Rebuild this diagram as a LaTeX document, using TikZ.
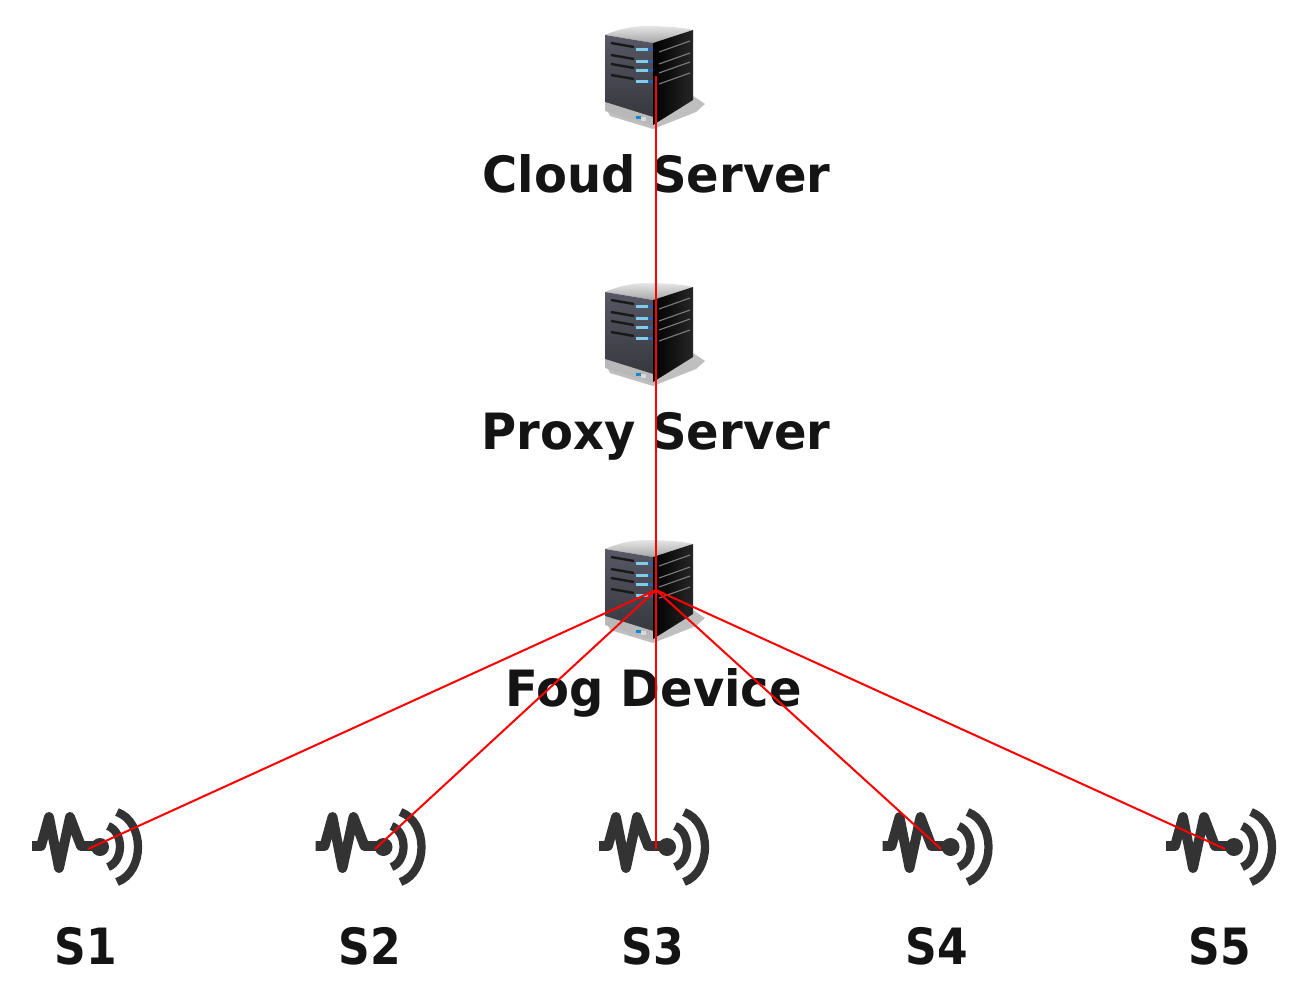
\documentclass[tikz,border=0pt]{standalone}
\usepackage{fontspec}
\setmainfont[FakeStretch=0.96]{DejaVu Sans Bold}
\newfontfamily\shortlblfont[FakeStretch=0.88]{DejaVu Sans Bold}
\definecolor{frontTop}{RGB}{88,88,102}
\definecolor{frontBot}{RGB}{52,52,58}
\definecolor{ledA}{RGB}{125,205,235}
\definecolor{ledB}{RGB}{40,95,170}
\begin{document}
\begin{tikzpicture}[x=0.75pt,y=-0.75pt,
  lbl/.style={font=\fontsize{37.5pt}{44pt}\selectfont,text=black!92,inner sep=0pt,anchor=base},
  slbl/.style={font=\shortlblfont\fontsize{37.5pt}{44pt}\selectfont,text=black!92,inner sep=0pt,anchor=base},
  link/.style={draw=red,line width=2.1pt},
  fan/.style={draw=red,line width=1.5pt},
  sig/.style={draw=black!80,line width=6.2pt},
  wave/.style={draw=black!80,line width=7.4pt,line join=round},
  server/.pic={
    % shadow
    \fill[black!25] (37,20) -- (49,28) -- (40,36) -- (-3,53) -- (-46,40) -- (-51,30) -- cycle;
    % top
    \shade[top color=black!10,bottom color=black!35] (-51,-41) .. controls (-35,-48) and (-20,-50) .. (-9,-50) .. controls (10,-50) and (30,-48) .. (37,-46) -- (-3,-33) -- cycle;
    % front
    \shade[top color=frontTop,bottom color=frontBot] (-51,-41) -- (-3,-33) -- (-3,49) -- (-51,34) -- cycle;
    \fill[black!28] (-51,26) -- (-3,41) -- (-3,50) -- (-51,35) -- cycle;
    % right
    \shade[left color=black,right color=black!85] (-3,-33) -- (37,-46) -- (37,24) -- (-3,49) -- cycle;
    % slots
    \foreach \yy in {-27,-15,-6,5}{
      \draw[black!50,line width=0.8pt] (3,\yy+3) -- (34,\yy-8);
      \draw[black!90,line width=1.8pt] (-45,\yy-6) -- (-22,\yy-2);
      \fill[ledA] (-20,\yy-1.5) rectangle (-8,\yy+1.5);
      \fill[ledB] (-8,\yy-1.5) rectangle (-3,\yy+1.5);
    }
    \fill[cyan!70!blue] (-20,46-6) rectangle (-15,46-3);
    \fill[black!15] (-15,46-5) rectangle (-10,46-1);
  },
  sensor/.pic={
    \draw[wave] (32,846) -- (41,846) -- (49,817) -- (59,868) -- (70,817) -- (81,846) -- (98,846);
    \fill[black!80] (100,847) circle[radius=9];
    \draw[sig] (108,826) .. controls (124,832) and (124,861) .. (108,867);
    \draw[sig] (117,812) .. controls (145,822) and (145,872) .. (117,882);
  }]
\useasboundingbox (0,0) rectangle (1303,992);
\fill[white] (0,0) rectangle (1303,992);

\pic at (656,76) {server};
\pic at (656,333) {server};
\pic at (656,590) {server};
\pic at (0,0) {sensor};
\pic at (283.5,0) {sensor};
\pic at (567,0) {sensor};
\pic at (850.5,0) {sensor};
\pic at (1134,0) {sensor};

\node[lbl] (cloudlabel) at (656.5,192) {Cloud Server};
\node[lbl] (proxylabel) at (656,449) {Proxy Server};
\node[lbl] (foglabel) at (654,706) {Fog Device};
\node[slbl] (s1label) at (86,964) {S1};
\node[slbl] (s2label) at (370,964) {S2};
\node[slbl] (s3label) at (653,964) {S3};
\node[slbl] (s4label) at (937,964) {S4};
\node[slbl] (s5label) at (1220,964) {S5};

\coordinate (cloud) at (656,76);
\coordinate (proxy) at (656,333);
\coordinate (fog) at (656,590);
\coordinate (s1) at (88,849);
\coordinate (s2) at (375,849);
\coordinate (s3) at (656,849);
\coordinate (s4) at (941,849);
\coordinate (s5) at (1225,849);

\draw[link] (cloud) -- (proxy);
\draw[link] (proxy) -- (fog);
\draw[fan] (fog) -- (s1);
\draw[fan] (fog) -- (s2);
\draw[link] (fog) -- (s3);
\draw[fan] (fog) -- (s4);
\draw[fan] (fog) -- (s5);
\end{tikzpicture}
\end{document}
